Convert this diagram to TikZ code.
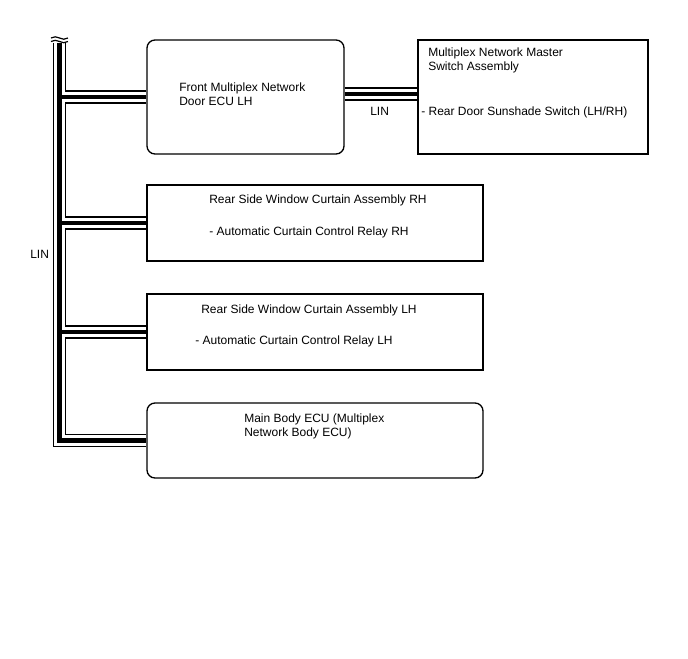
\documentclass[tikz,border=0pt]{standalone}
\usepackage{fontspec}
\setmainfont{Liberation Sans}
\usetikzlibrary{backgrounds}

\begin{document}
\begin{tikzpicture}[x=0.75pt, y=-0.75pt, line join=miter]
  \def\u{0.75pt} % 1 px
  \tikzset{
    unit/.style={draw=black, line width=1pt, inner sep=0pt},
    roundunit/.style={unit, rounded corners=6pt},
    txt/.style={anchor=base west, inner sep=0pt, align=left, font=\fontsize{9pt}{10.5pt}\selectfont}
  }
  \useasboundingbox (0,0) rectangle (688,658);

  % cac hop ECU
  \node[roundunit, minimum width=197*\u, minimum height=114*\u] (fecu) at (245.5,97) {};
  \node[unit, minimum width=230*\u, minimum height=114*\u] (msw) at (533,97) {};
  \node[unit, minimum width=336*\u, minimum height=76*\u] (rscrh) at (315,223) {};
  \node[unit, minimum width=336*\u, minimum height=76*\u] (rsclh) at (315,332) {};
  \node[roundunit, minimum width=336*\u, minimum height=75*\u] (mbecu) at (315,440.5) {};

  \node[txt] (fecutxt) at (179,105) {Front Multiplex Network\\Door ECU LH};
  \node[txt] (mswtxt) at (428,70) {Multiplex Network Master\\Switch Assembly};
  \node[txt] (mswsub) at (421,115) {- Rear Door Sunshade Switch (LH/RH)};
  \node[txt] (rhtxt) at (209,203) {Rear Side Window Curtain Assembly RH};
  \node[txt] (rhsub) at (209,235) {- Automatic Curtain Control Relay RH};
  \node[txt] (lhtxt) at (201,313) {Rear Side Window Curtain Assembly LH};
  \node[txt] (lhsub) at (195,344) {- Automatic Curtain Control Relay LH};
  \node[txt] (mbtxt) at (244,436) {Main Body ECU (Multiplex\\Network Body ECU)};
  \node[txt] (linmid) at (370,115) {LIN};
  \node[txt] (linbus) at (30,258) {LIN};

  % duong LIN: 3 lop
  \coordinate (bustop) at (59.5,43);
  \begin{pgfonlayer}{background}
    \foreach \w/\c in {13.3/black, 10.7/white, 4.5/black}{
      \draw[line width=\w*\u, draw=\c] (bustop) |- (mbecu.west);
      \draw[line width=\w*\u, draw=\c] (bustop |- fecu.west) -- (fecu.west);
      \draw[line width=\w*\u, draw=\c] (bustop |- rscrh.west) -- (rscrh.west);
      \draw[line width=\w*\u, draw=\c] (bustop |- rsclh.west) -- (rsclh.west);
      \draw[line width=\w*\u, draw=\c] ([yshift=2.25pt]fecu.east) -- ([yshift=2.25pt]msw.west);
    }
  \end{pgfonlayer}

  % dau cat
  \draw[line width=0.9pt] (51,38) sin (55.25,36.8) cos (59.5,38) sin (63.75,39.2) cos (68,38);
  \draw[line width=0.9pt] (51,41.5) sin (55.25,40.3) cos (59.5,41.5) sin (63.75,42.7) cos (68,41.5);
\end{tikzpicture}
\end{document}
